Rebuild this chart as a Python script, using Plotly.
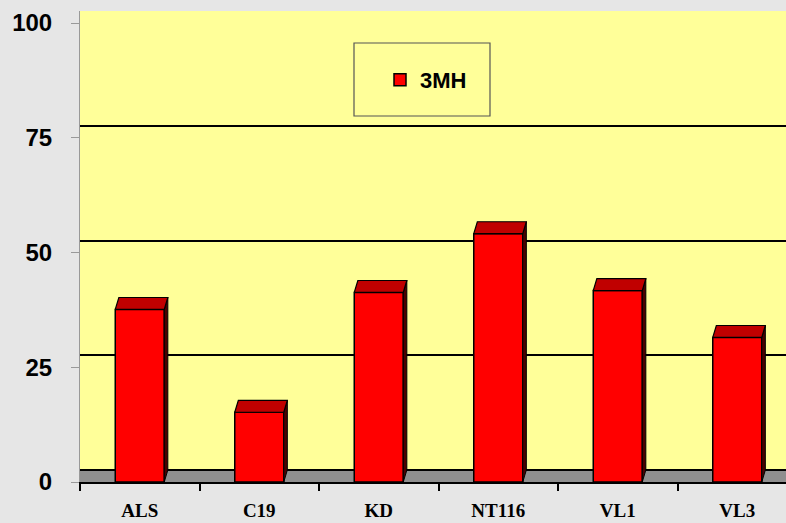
import plotly.graph_objects as go

categories = ["ALS", "C19", "KD", "NT116", "VL1", "VL3"]
values_3mh = [37.6, 15.2, 41.3, 54.1, 41.7, 31.5]
series_name = "3MH"
y_tick_vals = [0, 25, 50, 75, 100]

# 3D styling parameters (pixel-derived depth offsets in axis units)
BAR_W = 0.41
DX = 0.03      # depth shift in category units
DY = 2.6       # depth shift in value units

xs = list(range(len(categories)))

fig = go.Figure()

# front faces
fig.add_trace(go.Bar(
    x=xs, y=values_3mh, width=BAR_W, name=series_name,
    marker=dict(color="#FF0000", line=dict(color="#000000", width=1.5)),
    showlegend=True,
))

# side faces
sx, sy = [], []
for x, v in zip(xs, values_3mh):
    r = x + BAR_W / 2
    sx += [r, r, r + DX, r + DX, r, None]
    sy += [0, v, v + DY, DY, 0, None]
fig.add_trace(go.Scatter(x=sx, y=sy, mode="lines", fill="toself",
                         fillcolor="#4a0000", line=dict(color="#000000", width=1),
                         showlegend=False, hoverinfo="skip"))

# top faces
tx, ty = [], []
for x, v in zip(xs, values_3mh):
    l, r = x - BAR_W / 2, x + BAR_W / 2
    tx += [l, r, r + DX, l + DX, l, None]
    ty += [v, v, v + DY, v + DY, v, None]
fig.add_trace(go.Scatter(x=tx, y=ty, mode="lines", fill="toself",
                         fillcolor="#C00000", line=dict(color="#000000", width=1.2),
                         showlegend=False, hoverinfo="skip"))

top_val = (482 - 11) / 4.59

fig.update_layout(
    width=786, height=523, autosize=False,
    margin=dict(l=80, r=0, t=11, b=41, pad=0, autoexpand=False),
    paper_bgcolor="#E6E6E6",
    plot_bgcolor="#FFFF99",
    bargap=0.59,
    xaxis=dict(
        range=[-0.5, -0.5 + 706 / 119.5],
        tickmode="array", tickvals=xs, ticktext=categories,
        ticks="", showgrid=False, zeroline=False,
        showline=True, linecolor="#000000", linewidth=2,
        tickfont=dict(family="Liberation Serif", size=19, color="#000000", weight="bold"),
        ticklabelstandoff=10, automargin=False,
        minor=dict(tickmode="array", tickvals=[i - 0.5 for i in range(len(categories) + 1)],
                   ticks="outside", ticklen=7, tickwidth=1.5, tickcolor="#000000"),
    ),
    yaxis=dict(
        range=[0, top_val],
        tickmode="array", tickvals=y_tick_vals,
        ticks="outside", ticklen=8, tickcolor="#999999", tickwidth=1,
        showgrid=False, zeroline=False,
        showline=True, linecolor="#999999", linewidth=1,
        tickfont=dict(family="Liberation Sans", size=24, color="#000000", weight="bold"),
        ticklabelstandoff=14, automargin=False,
    ),
    yaxis2=dict(
        overlaying="y", side="left",
        range=[-DY, top_val - DY],
        tickmode="array", tickvals=[0, 25, 50, 75, 100],
        showgrid=True, gridcolor="#000000", gridwidth=2,
        showticklabels=False, ticks="", zeroline=False, showline=False,
        automargin=False,
    ),
    legend=dict(
        x=(380 - 80) / 706, xanchor="left",
        y=(482 - 80) / 471, yanchor="middle",
        bgcolor="rgba(0,0,0,0)", borderwidth=0,
        font=dict(family="Liberation Sans", size=22, color="#000000", weight="bold"),
    ),
    shapes=[
        # floor band
        dict(type="rect", xref="x domain", yref="y", x0=0, x1=1, y0=0, y1=DY,
             fillcolor="#8F8F8F", line=dict(width=0), layer="below"),
        # legend box
        dict(type="rect", xref="paper", yref="paper",
             x0=(354 - 80) / 706, x1=(490 - 80) / 706,
             y0=(482 - 116) / 471, y1=(482 - 43) / 471,
             fillcolor="#FFFF99", line=dict(color="#555555", width=1.2), layer="below"),
    ],
)

# dummy trace to activate yaxis2 gridlines
fig.add_trace(go.Scatter(x=[None], y=[None], yaxis="y2", showlegend=False, hoverinfo="skip"))

fig.write_html("out.html",
               config={"displayModeBar": False},
               post_script="document.body.style.margin='0';document.body.style.background='#E6E6E6';")
